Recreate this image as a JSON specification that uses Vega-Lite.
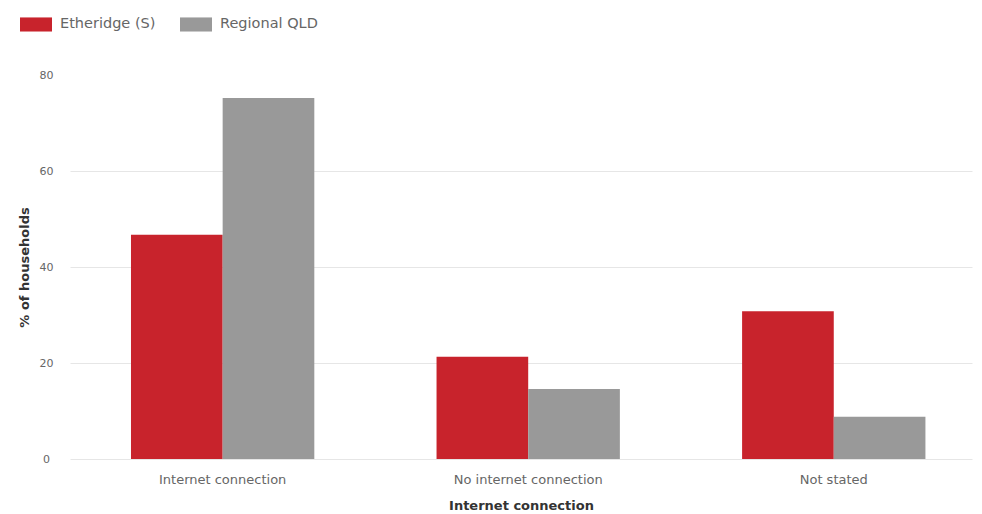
{
  "$schema": "https://vega.github.io/schema/vega-lite/v6.json",
  "autosize": {"type": "none"},
  "padding": {"left": 70, "top": 75, "right": 10, "bottom": 55},
  "width": 902,
  "height": 384,
  "background": "white",
  "data": {
    "values": [
      {"connection": "Internet connection", "area": "Etheridge (S)", "pct": 46.7},
      {"connection": "Internet connection", "area": "Regional QLD", "pct": 75.2},
      {"connection": "No internet connection", "area": "Etheridge (S)", "pct": 21.3},
      {"connection": "No internet connection", "area": "Regional QLD", "pct": 14.6},
      {"connection": "Not stated", "area": "Etheridge (S)", "pct": 30.8},
      {"connection": "Not stated", "area": "Regional QLD", "pct": 8.8}
    ]
  },
  "mark": {"type": "bar"},
  "encoding": {
    "x": {
      "field": "connection",
      "type": "nominal",
      "sort": null,
      "title": "Internet connection",
      "scale": {"paddingInner": 0.4, "paddingOuter": 0.176, "align": 0.567},
      "axis": {
        "labelAngle": 0,
        "domain": false,
        "ticks": false,
        "labelPadding": 14,
        "labelFont": "DejaVu Sans",
        "labelFontSize": 13,
        "labelColor": "#666666",
        "titleFont": "DejaVu Sans",
        "titleFontSize": 13,
        "titleFontWeight": "bold",
        "titleColor": "#333333",
        "titlePadding": 13
      }
    },
    "xOffset": {"field": "area", "type": "nominal", "scale": {"paddingInner": 0}},
    "y": {
      "field": "pct",
      "type": "quantitative",
      "title": "% of households",
      "scale": {"domain": [0, 80], "nice": false},
      "axis": {
        "values": [0, 20, 40, 60, 80],
        "domain": false,
        "ticks": false,
        "labelPadding": 24,
        "labelAlign": "center",
        "labelFont": "DejaVu Sans",
        "labelFontSize": 11,
        "labelColor": "#666666",
        "gridColor": "#e6e6e6",
        "gridOpacity": {"condition": {"test": "datum.value >= 80", "value": 0}, "value": 1},
        "titleFont": "DejaVu Sans",
        "titleFontSize": 13,
        "titleFontWeight": "bold",
        "titleColor": "#333333",
        "titlePadding": 8
      }
    },
    "color": {
      "field": "area",
      "type": "nominal",
      "title": null,
      "scale": {"domain": ["Etheridge (S)", "Regional QLD"], "range": ["#c8232c", "#999999"]},
      "legend": {
        "orient": "none",
        "legendX": -50,
        "legendY": -67,
        "direction": "horizontal",
        "symbolType": "M-1,-0.44H1V0.44H-1Z",
        "symbolSize": 1024,
        "symbolStrokeWidth": 0,
        "symbolOpacity": 1,
        "labelFont": "DejaVu Sans",
        "labelFontSize": 14.5,
        "labelColor": "#666666",
        "labelOffset": 8,
        "columnPadding": 24
      }
    }
  },
  "config": {"view": {"stroke": null}}
}
